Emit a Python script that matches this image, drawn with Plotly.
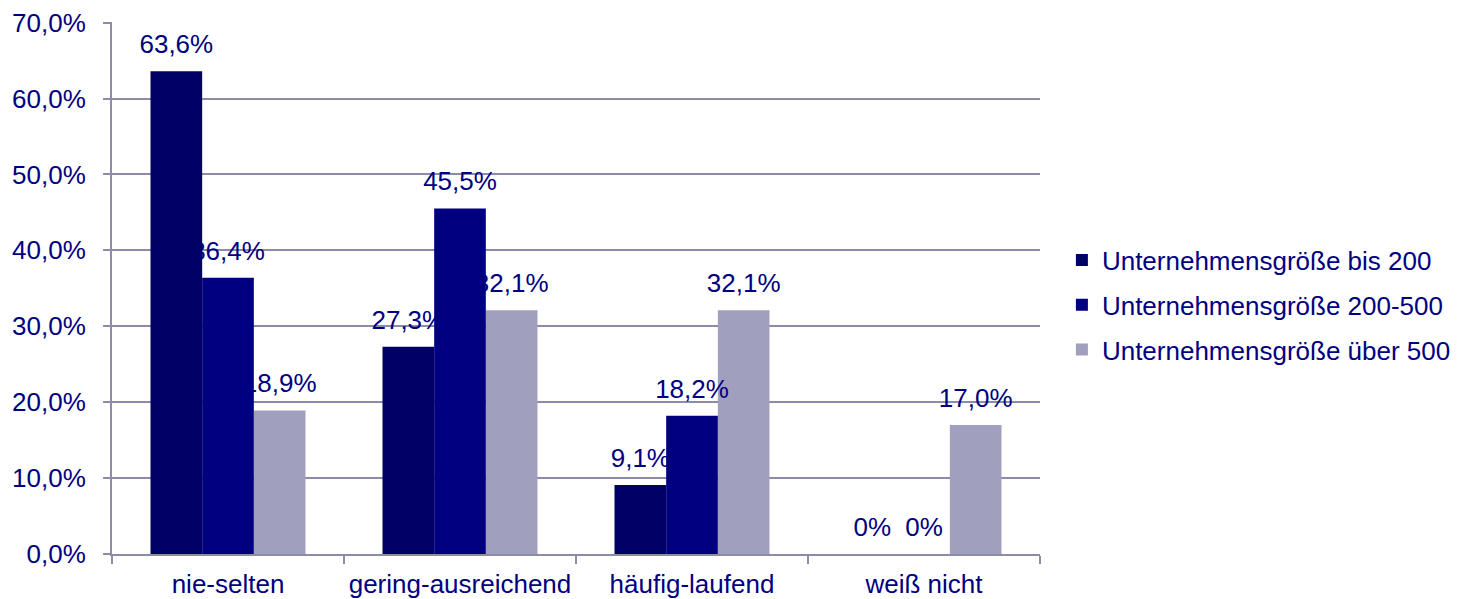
import plotly.graph_objects as go

categories = ["nie-selten", "gering-ausreichend", "häufig-laufend", "weiß nicht"]
series_names = ["Unternehmensgröße bis 200", "Unternehmensgröße 200-500", "Unternehmensgröße über 500"]
bis_200 = [63.6, 27.3, 9.1, 0.0]
von_200_500 = [36.4, 45.5, 18.2, 0.0]
ueber_500 = [18.9, 32.1, 32.1, 17.0]

colors = ["#000066", "#000080", "#A0A0BE"]
text_color = "#000080"
grid_color = "#8C8CAA"
font = "Liberation Sans, Arial, sans-serif"
fs = 26


def fmt(v):
    if v == 0:
        return "0%"
    return f"{v:.1f}".replace(".", ",") + "%"


bw = 0.2227
offsets = [-1.5 * bw, -0.5 * bw, 0.5 * bw]
values = [bis_200, von_200_500, ueber_500]
label_gap = 1.2  # extra space between bar top and its label (axis units)

fig = go.Figure()
# drawn back to front so earlier bars cover the labels of later series, as in the original
for i in [2, 1, 0]:
    fig.add_trace(go.Bar(
        x=categories,
        y=values[i],
        name=series_names[i],
        legendgroup=str(i),
        legendrank=i,
        marker=dict(color=colors[i], line=dict(width=0)),
        width=bw,
        offset=offsets[i],
        hoverinfo="skip",
    ))
    # invisible carrier bar sitting on top of the real one, holding the label
    fig.add_trace(go.Bar(
        x=categories,
        y=[label_gap] * len(categories),
        base=values[i],
        legendgroup=str(i),
        showlegend=False,
        marker=dict(color="rgba(0,0,0,0)", line=dict(width=0)),
        width=bw,
        offset=offsets[i],
        text=[fmt(v) for v in values[i]],
        textposition="outside",
        constraintext="none",
        textfont=dict(color=text_color, size=fs, family=font),
        cliponaxis=False,
        hoverinfo="skip",
    ))

# page body has an 8px margin, so the figure is 16px smaller than the window
fig.update_layout(
    width=1466, height=591,
    barmode="overlay",
    plot_bgcolor="white", paper_bgcolor="white",
    margin=dict(l=104, r=434, t=14, b=45, autoexpand=False),
    font=dict(family=font, size=fs, color=text_color),
    showlegend=True,
    legend=dict(
        x=1.0236, y=0.468, xanchor="left", yanchor="middle",
        traceorder="grouped", tracegroupgap=8,
        font=dict(size=fs, color=text_color),
        itemwidth=30,
    ),
    xaxis=dict(
        type="category", range=[-0.5, 3.5],
        showline=True, linecolor=grid_color, linewidth=2,
        ticks="outside", tickson="boundaries", ticklen=8, tickcolor=grid_color, tickwidth=2,
        showgrid=False, tickangle=0, ticklabelstandoff=6,
    ),
    yaxis=dict(
        range=[0, 70.08], dtick=10,
        tickformat=".1f", ticksuffix="%",
        showline=True, linecolor=grid_color, linewidth=2,
        ticks="outside", ticklen=7, tickcolor=grid_color, tickwidth=2,
        showgrid=True, gridcolor=grid_color, gridwidth=2,
        zeroline=False,
        ticklabelstandoff=12, ticklabeloverflow="allow",
    ),
    separators=",.",
)

fig.write_html("out.html")
